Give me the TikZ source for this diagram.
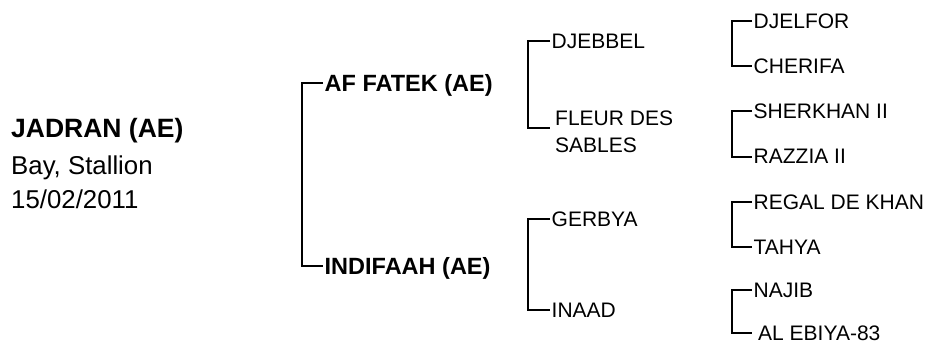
\documentclass[tikz,border=0pt]{standalone}
\usepackage{fontspec}
\setmainfont{Liberation Sans}

\tikzset{
  horse/.style={anchor=west,inner ysep=0pt,inner xsep=1.5pt,text depth=0pt},
  sire/.style={horse,text height=17pt,font=\bfseries\fontsize{23.5}{26}\selectfont},
  anc/.style={horse,text height=15pt,font=\fontsize{21}{26.5}\selectfont},
  info/.style={anchor=base west,inner sep=0pt,font=\fontsize{25.8}{30}\selectfont},
  link/.style={line width=2pt}
}

\begin{document}
\begin{tikzpicture}[x=1pt,y=-1pt]
\useasboundingbox (0,0) rectangle (930,345);

% the horse itself
\node[info,font=\bfseries\fontsize{26.5}{30}\selectfont] (jadran) at (11,138) {JADRAN (AE)};
\node[info] (colour) at (11,174) {Bay, Stallion};
\node[info] (foaled) at (11,208) {15/02/2011};

% parents
\node[sire] (fatek) at (323,83) {AF FATEK (AE)};
\node[sire] (indifaah) at (323,266) {INDIFAAH (AE)};

% grandparents
\node[anc] (djebbel) at (550,41) {DJEBBEL};
\node[anc,align=left,text height=,text depth=,inner xsep=5pt] (fleur) at (550,132) {FLEUR DES\\SABLES};
\node[anc] (gerbya) at (550,219) {GERBYA};
\node[anc] (inaad) at (550,310) {INAAD};

% great-grandparents
\node[anc] (djelfor) at (752,21) {DJELFOR};
\node[anc] (cherifa) at (752,66) {CHERIFA};
\node[anc] (sherkhan) at (752,111) {SHERKHAN II};
\node[anc] (razzia) at (752,156.5) {RAZZIA II};
\node[anc] (regal) at (752,201.5) {REGAL DE KHAN};
\node[anc] (tahya) at (752,246.5) {TAHYA};
\node[anc] (najib) at (752,290) {NAJIB};
\node[anc,inner xsep=6pt] (ebiya) at (752,333) {AL EBIYA-83};

\draw[link] (fatek.west) -- ++(-21,0) |- (indifaah.west);
\draw[link] (djebbel.west) -- ++(-22,0) |- ([yshift=4pt]fleur.west);
\draw[link] (gerbya.west) -- ++(-22,0) |- (inaad.west);
\draw[link] (djelfor.west) -- ++(-20,0) |- (cherifa.west);
\draw[link] (sherkhan.west) -- ++(-20,0) |- (razzia.west);
\draw[link] (regal.west) -- ++(-20,0) |- (tahya.west);
\draw[link] (najib.west) -- ++(-20,0) |- (ebiya.west);
\end{tikzpicture}
\end{document}
